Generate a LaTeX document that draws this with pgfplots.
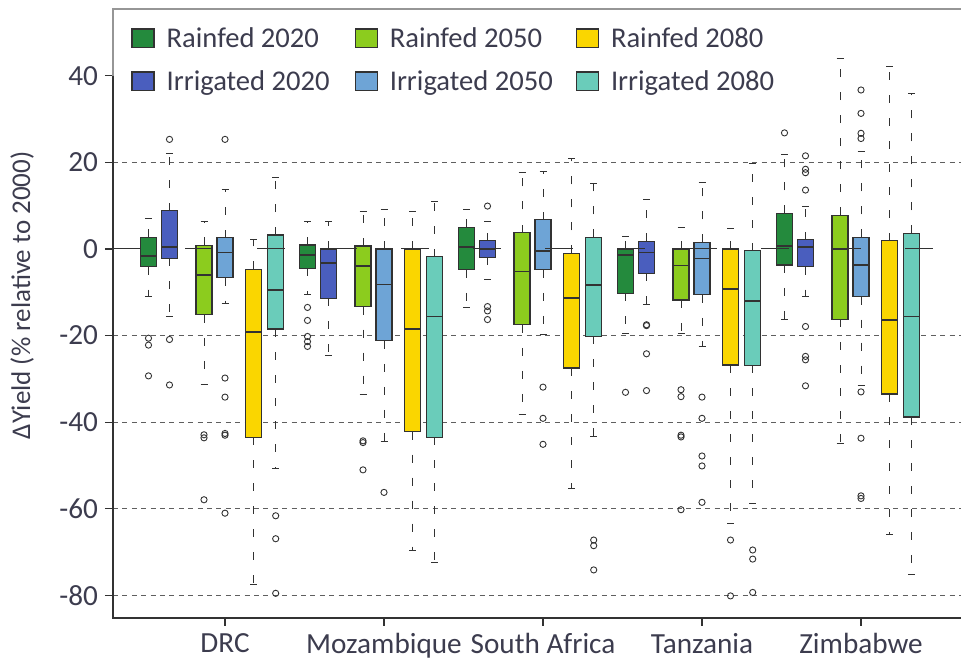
\documentclass[border=0pt]{standalone}
\usepackage{fontspec}
\setmainfont{Carlito}
\usepackage{pgfplots}
\pgfplotsset{compat=1.18}
\usepgfplotslibrary{statistics}
\usetikzlibrary{calc}
\definecolor{rfA}{RGB}{36,138,61}
\definecolor{irA}{RGB}{74,94,190}
\definecolor{rfB}{RGB}{140,204,30}
\definecolor{irB}{RGB}{110,164,214}
\definecolor{rfC}{RGB}{250,214,0}
\definecolor{irC}{RGB}{106,204,186}
\definecolor{txt}{RGB}{60,60,78}
\definecolor{edge}{RGB}{50,50,50}
\definecolor{gridc}{RGB}{95,95,95}
\definecolor{framec}{RGB}{150,150,150}

\pgfplotsset{
  boxplot/every whisker/.style={draw=edge, fill=none, line width=0.5pt, dash pattern=on 4pt off 7.5pt},
  boxplot/every median/.style={draw=edge, line width=0.85pt},
  boxplot/every box/.style={draw=edge, line width=0.6pt},
  boxplot/draw direction=y,
  boxplot/box extend=0.16,
  boxplot/whisker extend=0.07,
}

% #1 colour, #2 position, #3 lower whisker, #4 lower quartile, #5 median, #6 upper quartile, #7 upper whisker, #8 outliers
\newcommand{\bx}[8]{%
  \addplot[forget plot, fill=#1, draw=edge, mark=o, mark size=1.55pt,
    mark options={draw=edge, fill=none, line width=0.45pt, solid},
    boxplot/draw direction=y,
    boxplot prepared={draw position=#2, lower whisker=#3, lower quartile=#4,
      median=#5, upper quartile=#6, upper whisker=#7}] coordinates {#8};
}

\begin{document}
\begin{tikzpicture}
\begin{axis}[
  scale only axis, width=424pt, height=304.5pt,
  xmin=0, xmax=8.48, ymin=-85.2, ymax=55.4,
  clip=false,
  axis line style={draw=none},
  xtick={1.12,2.71,4.30,5.89,7.48},
  xticklabels={DRC,Mozambique,South Africa,Tanzania,Zimbabwe},
  ytick={-80,-60,-40,-20,0,20,40},
  yticklabels={-80,-60,-40,-20,0,20,40},
  xtick pos=left, ytick pos=left,
  tick align=outside, major tick length=4pt,
  tick style={draw=edge, line width=0.6pt},
  ticklabel style={font=\fontsize{14.6}{16}\selectfont, text=txt},
  ylabel={ΔYield (\% relative to 2000)},
  ylabel style={font=\fontsize{13.5}{16}\selectfont, text=txt, at={(axis description cs:0,0.53)}, anchor=center, yshift=45.5pt},
  legend columns=3,
  legend style={at={(rel axis cs:0,1)}, anchor=north west, xshift=9pt, yshift=-9pt,
    draw=none, fill=none, inner sep=0pt, row sep=8pt,
    font=\fontsize{14.3}{16}\selectfont, text=txt,
    nodes={inner xsep=0pt, inner ysep=0pt, text height=10pt, text depth=3.5pt},
    cells={anchor=base west},
    /tikz/every odd column/.append style={column sep=6pt}},
  legend image code/.code={\draw[#1, line width=0.6pt] (0pt,-0.2pt) rectangle (11pt,9.2pt);},
]
\addlegendimage{fill=rfA, draw=edge}\addlegendentry{\makebox[94pt][l]{Rainfed 2020}}
\addlegendimage{fill=rfB, draw=edge}\addlegendentry{\makebox[93pt][l]{Rainfed 2050}}
\addlegendimage{fill=rfC, draw=edge}\addlegendentry{Rainfed 2080}
\addlegendimage{fill=irA, draw=edge}\addlegendentry{\makebox[94pt][l]{Irrigated 2020}}
\addlegendimage{fill=irB, draw=edge}\addlegendentry{\makebox[93pt][l]{Irrigated 2050}}
\addlegendimage{fill=irC, draw=edge}\addlegendentry{Irrigated 2080}

% grid lines
\addplot[forget plot, gridc, line width=0.6pt, dash pattern=on 2.5pt off 2.2pt] coordinates {(0,20) (8.48,20)};
\addplot[forget plot, gridc, line width=0.6pt, dash pattern=on 2.5pt off 2.2pt] coordinates {(0,-20) (8.48,-20)};
\addplot[forget plot, gridc, line width=0.6pt, dash pattern=on 2.5pt off 2.2pt] coordinates {(0,-40) (8.48,-40)};
\addplot[forget plot, gridc, line width=0.6pt, dash pattern=on 2.5pt off 2.2pt] coordinates {(0,-60) (8.48,-60)};
\addplot[forget plot, gridc, line width=0.6pt, dash pattern=on 2.5pt off 2.2pt] coordinates {(0,-80) (8.48,-80)};

% DRC
\bx{rfA}{0.355}{-11}{-4.1}{-1.6}{2.7}{7.1}{(0,-20.6) (0,-22.2) (0,-29.3)}
\bx{irA}{0.565}{-15.6}{-2.2}{0.4}{8.8}{22.1}{(0,25.3) (0,-20.9) (0,-31.4)}
\bx{rfB}{0.91}{-31.4}{-15.2}{-6}{0.8}{6.3}{(0,-42.9) (0,-43.6) (0,-57.9)}
\bx{irB}{1.12}{-12.5}{-6.6}{-0.8}{2.6}{13.8}{(0,25.3) (0,-29.8) (0,-34.2) (0,-42.6) (0,-43) (0,-61)}
\bx{rfC}{1.405}{-77.5}{-43.5}{-19.1}{-4.7}{2.2}{}
\bx{irC}{1.627}{-50.6}{-18.5}{-9.5}{3.2}{16.5}{(0,-61.6) (0,-66.9) (0,-79.5)}
% Mozambique
\bx{rfA}{1.945}{-10.6}{-4.5}{-1.4}{0.9}{6.3}{(0,-13.5) (0,-16.5) (0,-20.2) (0,-21.4) (0,-22.5)}
\bx{irA}{2.155}{-24.5}{-11.4}{-3.3}{0}{6.3}{}
\bx{rfB}{2.50}{-33.7}{-13.3}{-3.9}{0.7}{8.6}{(0,-44.3) (0,-44.7) (0,-51)}
\bx{irB}{2.71}{-44.5}{-21.2}{-8.2}{0}{9.2}{(0,-56.2)}
\bx{rfC}{2.995}{-69.6}{-42.2}{-18.5}{0}{8.6}{}
\bx{irC}{3.217}{-72.5}{-43.5}{-15.6}{-1.8}{10.9}{}
% South Africa
\bx{rfA}{3.535}{-13.5}{-4.8}{0.4}{5}{9}{}
\bx{irA}{3.745}{-7}{-1.9}{0}{1.9}{6.3}{(0,9.9) (0,-13.3) (0,-14.3) (0,-16.3)}
\bx{rfB}{4.09}{-38.2}{-17.5}{-5.2}{3.8}{17.6}{}
\bx{irB}{4.30}{-19.7}{-4.8}{-0.5}{6.8}{17.8}{(0,-31.9) (0,-39.1) (0,-45.1)}
\bx{rfC}{4.585}{-55.2}{-27.5}{-11.4}{-1}{20.9}{}
\bx{irC}{4.807}{-43.2}{-20.2}{-8.3}{2.7}{15}{(0,-67.2) (0,-68.5) (0,-74.1)}
% Tanzania
\bx{rfA}{5.125}{-19.5}{-10.2}{-1.4}{0}{2.8}{(0,-33.1)}
\bx{irA}{5.335}{-12.9}{-5.6}{-0.8}{1.8}{11.5}{(0,-17.5) (0,-17.7) (0,-24.2) (0,-32.7)}
\bx{rfB}{5.68}{-19.5}{-11.8}{-3.8}{0}{5}{(0,-32.5) (0,-34.1) (0,-43) (0,-43.4) (0,-60.2)}
\bx{irB}{5.89}{-22.5}{-10.6}{-2.2}{1.5}{15.3}{(0,-34.2) (0,-39.1) (0,-47.8) (0,-50.1) (0,-58.5)}
\bx{rfC}{6.175}{-63.3}{-26.8}{-9.3}{0}{4.8}{(0,-67.2) (0,-80.1)}
\bx{irC}{6.397}{-58.7}{-26.9}{-12}{-0.4}{19.8}{(0,-69.5) (0,-71.6) (0,-79.3)}
% Zimbabwe
\bx{rfA}{6.715}{-16.4}{-3.7}{0.7}{8.2}{21.7}{(0,26.8)}
\bx{irA}{6.925}{-11}{-4.1}{0.5}{2.1}{9.9}{(0,13.6) (0,17.6) (0,18.4) (0,21.5) (0,-17.9) (0,-24.8) (0,-25.6) (0,-31.6)}
\bx{rfB}{7.27}{-44.8}{-16.2}{-0.1}{7.8}{44}{}
\bx{irB}{7.48}{-31.5}{-11}{-3.7}{2.7}{22.5}{(0,25.5) (0,26.7) (0,31.3) (0,36.7) (0,-33) (0,-43.7) (0,-57) (0,-57.6)}
\bx{rfC}{7.765}{-66}{-33.5}{-16.4}{1.9}{42.1}{}
\bx{irC}{7.987}{-75.2}{-38.8}{-15.6}{3.6}{35.9}{}

% zero line
\addplot[forget plot, edge, line width=0.5pt, dash pattern=on 14pt off 22pt] coordinates {(0,0) (8.48,0)};

% frame
\draw[framec, line width=0.7pt] (rel axis cs:0,0) -- (rel axis cs:0,1) -- (rel axis cs:1,1);
\draw[edge, line width=0.9pt] (axis cs:0,40) -- (axis cs:0,-85.2) -- (axis cs:8.48,-85.2);
\coordinate (LL) at (rel axis cs:0,0);
\coordinate (UR) at (rel axis cs:1,1);
\end{axis}
\pgfresetboundingbox
\path[use as bounding box] ($(LL)+(-56.5pt,-22pt)$) rectangle ($(UR)+(0.5pt,4.5pt)$);
\end{tikzpicture}
\end{document}
